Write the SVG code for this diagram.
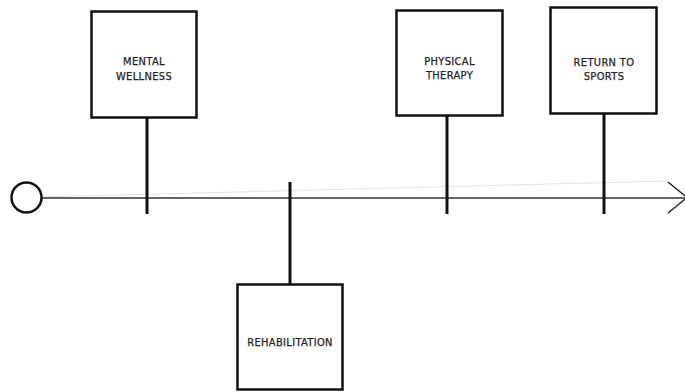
<svg xmlns="http://www.w3.org/2000/svg" width="685" height="392" viewBox="0 0 685 392">
<style>
.box{fill:#fff;stroke:#111;stroke-width:2.5}
.tick{stroke:#111;stroke-width:3}
.lbl{font-family:"DejaVu Sans Condensed","DejaVu Sans",sans-serif;font-size:11px;letter-spacing:0.35px;fill:#222;stroke:#222;stroke-width:0.25;text-anchor:middle}
</style>
<rect width="685" height="392" fill="#fff"/>
<g id="connectors">
<line x1="40" y1="197" x2="668" y2="181" stroke="#e4e4e4" stroke-width="1"/>
<line x1="42" y1="198" x2="685" y2="198" stroke="#666" stroke-width="2"/>
<polyline points="668,182 687,197.5 668,213" fill="none" stroke="#222" stroke-width="1.5"/>
<line class="tick" x1="147" y1="118" x2="147" y2="214"/>
<line class="tick" x1="290" y1="182" x2="290" y2="284"/>
<line class="tick" x1="447" y1="116" x2="447" y2="214"/>
<line class="tick" x1="604" y1="114" x2="604" y2="214"/>
</g>
<g id="start">
<circle cx="26.5" cy="197.5" r="15" fill="#fff" stroke="#111" stroke-width="2.5"/>
</g>
<g id="mental">
<rect class="box" x="91.5" y="11.5" width="105" height="106"/>
<text class="lbl" x="144" y="65">MENTAL</text>
<text class="lbl" x="144" y="80">WELLNESS</text>
</g>
<g id="rehab">
<rect class="box" x="237.5" y="284.5" width="105" height="105"/>
<text class="lbl" x="290" y="346">REHABILITATION</text>
</g>
<g id="physical">
<rect class="box" x="396.5" y="10.5" width="106" height="105"/>
<text class="lbl" x="449.5" y="65">PHYSICAL</text>
<text class="lbl" x="449.5" y="79">THERAPY</text>
</g>
<g id="return">
<rect class="box" x="550.5" y="7.5" width="106" height="106"/>
<text class="lbl" x="604" y="66">RETURN TO</text>
<text class="lbl" x="604" y="80">SPORTS</text>
</g>
</svg>
